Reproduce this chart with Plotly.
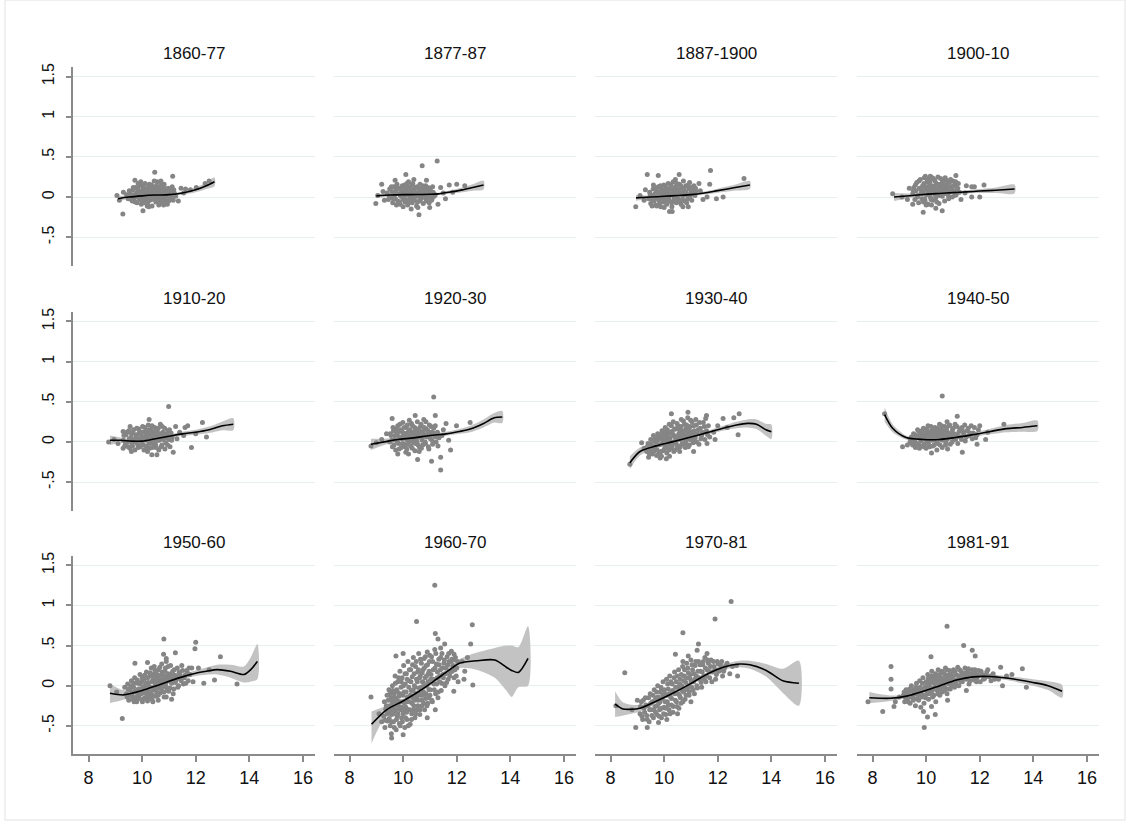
import plotly.graph_objects as go

# ---------------------------------------------------------------------------
# Panel titles (one panel per period) and axis ticks
# ---------------------------------------------------------------------------
periods = ["1860-77", "1877-87", "1887-1900", "1900-10",
           "1910-20", "1920-30", "1930-40", "1940-50",
           "1950-60", "1960-70", "1970-81", "1981-91"]

y_ticks = [-0.5, 0, 0.5, 1, 1.5]
y_tick_text = ["-.5", "0", ".5", "1", "1.5"]
x_ticks = [8, 10, 12, 14, 16]

# ---------------------------------------------------------------------------
# Observations per period: (x, y)
# ---------------------------------------------------------------------------
pts_1860_77 = [
    (9.42, 0.03), (9.48, -0.02), (9.55, 0.06), (9.58, 0.01), (9.63, -0.05), (9.66, 0.09), (9.70, 0.03),
    (9.72, -0.01), (9.76, 0.12), (9.79, 0.05), (9.81, -0.07), (9.84, 0.02), (9.87, 0.08), (9.90, -0.03),
    (9.92, 0.14), (9.95, 0.04), (9.97, -0.09), (10.0, 0.07), (10.02, 0.0), (10.04, 0.11), (10.06, -0.05),
    (10.09, 0.03), (10.11, 0.17), (10.13, 0.06), (10.15, -0.02), (10.18, 0.09), (10.2, -0.08), (10.22, 0.01),
    (10.24, 0.13), (10.26, 0.04), (10.28, -0.04), (10.31, 0.08), (10.33, 0.0), (10.35, 0.15), (10.37, -0.11),
    (10.4, 0.05), (10.42, 0.1), (10.44, -0.02), (10.47, 0.02), (10.49, 0.12), (10.51, -0.06), (10.54, 0.06),
    (10.56, 0.19), (10.58, -0.01), (10.61, 0.09), (10.63, 0.03), (10.66, -0.08), (10.68, 0.13), (10.71, 0.05),
    (10.73, -0.03), (10.76, 0.1), (10.79, 0.0), (10.82, 0.16), (10.85, -0.05), (10.88, 0.07), (10.91, 0.02),
    (10.94, -0.09), (10.97, 0.11), (11.0, 0.04), (11.04, -0.02), (11.08, 0.08), (11.12, 0.13), (11.16, -0.04),
    (11.2, 0.05), (11.25, 0.01),
    (9.52, 0.08), (9.6, -0.03), (9.67, 0.12), (9.74, -0.06), (9.83, 0.1), (9.88, 0.0), (9.93, 0.07),
    (9.99, -0.04), (10.05, 0.14), (10.07, 0.03), (10.1, -0.07), (10.14, 0.1), (10.17, 0.01), (10.21, 0.06),
    (10.23, -0.05), (10.27, 0.16), (10.3, 0.02), (10.34, 0.09), (10.36, -0.03), (10.39, 0.12), (10.41, 0.0),
    (10.46, 0.07), (10.5, -0.02), (10.53, 0.14), (10.57, 0.04), (10.6, -0.04), (10.64, 0.08), (10.67, 0.01),
    (10.7, 0.15), (10.74, -0.06), (10.78, 0.06), (10.83, 0.11), (10.87, -0.01), (10.93, 0.05), (10.99, -0.05),
    (11.05, 0.1), (11.1, 0.0), (11.18, 0.09), (9.85, 0.17), (10.45, 0.2), (10.19, -0.11), (10.62, -0.1),
    (9.06, 0.02), (9.15, -0.04), (9.28, -0.21), (9.3, 0.06), (9.73, 0.21), (10.03, -0.17), (10.47, 0.31),
    (11.14, 0.26), (11.35, -0.05), (11.45, 0.11), (11.55, 0.05), (11.62, 0.1), (11.8, 0.09), (12.02, 0.12),
    (12.5, 0.2), (12.35, 0.17), (10.7, 0.2), (9.95, 0.19), (10.25, -0.12), (10.8, -0.1),
]

pts_1877_87 = [
    (9.4, 0.05), (9.45, -0.03), (9.5, 0.1), (9.53, 0.0), (9.58, 0.07), (9.61, -0.07), (9.65, 0.13),
    (9.68, 0.03), (9.71, -0.02), (9.74, 0.09), (9.77, 0.16), (9.8, -0.05), (9.83, 0.04), (9.86, 0.11),
    (9.89, -0.09), (9.91, 0.01), (9.94, 0.07), (9.97, 0.14), (9.99, -0.03), (10.02, 0.05), (10.04, 0.1),
    (10.07, -0.06), (10.09, 0.02), (10.12, 0.08), (10.14, 0.17), (10.17, -0.1), (10.19, 0.04), (10.22, 0.12),
    (10.24, -0.02), (10.27, 0.06), (10.29, 0.0), (10.32, 0.15), (10.34, -0.07), (10.37, 0.09), (10.39, 0.03),
    (10.42, -0.04), (10.44, 0.11), (10.47, 0.05), (10.5, -0.11), (10.52, 0.13), (10.55, 0.01), (10.58, 0.07),
    (10.6, -0.05), (10.63, 0.16), (10.66, 0.04), (10.69, -0.01), (10.72, 0.1), (10.75, -0.08), (10.78, 0.06),
    (10.81, 0.02), (10.84, 0.14), (10.87, -0.03), (10.9, 0.08), (10.94, 0.0), (10.97, -0.07), (11.0, 0.11),
    (11.04, 0.03), (11.08, -0.02), (11.12, 0.06), (11.16, 0.01),
    (9.47, 0.02), (9.56, 0.13), (9.63, -0.02), (9.7, 0.06), (9.79, 0.11), (9.85, -0.06), (9.88, 0.03),
    (9.95, 0.1), (10.0, 0.0), (10.06, 0.15), (10.1, -0.04), (10.15, 0.06), (10.18, 0.13), (10.21, -0.07),
    (10.25, 0.02), (10.3, 0.09), (10.33, -0.02), (10.36, 0.17), (10.4, 0.07), (10.43, 0.0), (10.46, 0.12),
    (10.53, -0.06), (10.57, 0.04), (10.62, 0.1), (10.65, -0.03), (10.68, 0.07), (10.73, 0.14), (10.77, 0.0),
    (10.8, 0.09), (10.86, -0.05), (10.92, 0.12), (10.96, 0.04), (11.02, 0.08), (11.06, -0.04), (11.1, 0.13),
    (11.2, 0.03), (9.75, -0.1), (10.2, 0.19), (10.55, -0.13), (10.0, -0.12),
    (8.98, -0.08), (9.05, 0.02), (9.2, 0.16), (9.25, 0.07), (9.3, -0.04), (10.1, 0.28), (10.71, 0.39),
    (11.27, 0.45), (10.87, 0.21), (10.59, -0.22), (10.99, -0.13), (10.3, -0.15), (11.58, -0.02), (11.72, 0.15),
    (12.0, 0.16), (11.4, 0.12), (11.5, 0.05), (11.3, -0.09), (12.3, 0.14), (11.85, 0.06), (9.7, 0.21),
    (10.4, 0.22),
]

pts_1887_1900 = [
    (9.42, -0.02), (9.46, 0.06), (9.5, -0.08), (9.55, 0.02), (9.59, 0.1), (9.62, -0.05), (9.66, 0.04),
    (9.69, -0.1), (9.72, 0.08), (9.75, 0.0), (9.78, 0.13), (9.81, -0.04), (9.84, 0.05), (9.87, -0.12),
    (9.9, 0.1), (9.93, 0.02), (9.96, -0.06), (9.99, 0.15), (10.01, 0.04), (10.04, -0.02), (10.07, 0.09),
    (10.1, -0.09), (10.12, 0.06), (10.15, 0.17), (10.18, 0.0), (10.21, -0.05), (10.23, 0.11), (10.26, 0.03),
    (10.29, -0.12), (10.31, 0.08), (10.34, 0.19), (10.37, -0.02), (10.4, 0.05), (10.42, 0.13), (10.45, -0.07),
    (10.48, 0.02), (10.51, 0.1), (10.54, -0.03), (10.57, 0.16), (10.6, 0.06), (10.63, -0.09), (10.66, 0.12),
    (10.69, 0.01), (10.72, 0.2), (10.75, 0.07), (10.78, -0.05), (10.81, 0.14), (10.85, 0.03), (10.88, -0.02),
    (10.92, 0.1), (10.95, 0.18), (10.99, 0.05), (11.03, -0.04), (11.07, 0.09), (11.11, 0.14), (11.15, 0.02),
    (11.19, 0.07),
    (9.48, 0.03), (9.57, -0.04), (9.64, 0.12), (9.71, -0.02), (9.77, 0.06), (9.83, -0.08), (9.86, 0.14),
    (9.92, -0.01), (9.98, 0.07), (10.03, -0.06), (10.06, 0.12), (10.09, 0.02), (10.14, -0.03), (10.17, 0.1),
    (10.2, 0.04), (10.25, 0.16), (10.28, -0.07), (10.32, 0.03), (10.36, 0.11), (10.39, -0.04), (10.44, 0.07),
    (10.47, 0.17), (10.5, -0.01), (10.55, 0.09), (10.59, -0.06), (10.62, 0.14), (10.65, 0.04), (10.7, -0.04),
    (10.74, 0.11), (10.8, 0.06), (10.84, -0.07), (10.9, 0.15), (10.97, 0.01), (11.02, 0.12), (11.09, 0.04),
    (11.17, 0.11), (9.6, 0.15), (10.0, -0.13), (10.7, -0.12), (10.42, 0.22),
    (8.94, -0.12), (9.1, 0.02), (9.25, -0.04), (9.37, 0.28), (9.55, -0.11), (9.72, -0.11), (9.78, 0.27),
    (10.2, -0.18), (10.3, -0.18), (10.56, 0.28), (11.73, 0.33), (11.95, -0.02), (11.7, 0.16), (12.98, 0.23),
    (11.6, 0.0), (12.2, 0.0), (11.35, 0.08), (11.45, -0.03), (11.3, 0.17), (10.9, -0.12), (9.3, 0.09),
]

pts_1900_10 = [
    (9.5, 0.04), (9.54, 0.12), (9.58, -0.03), (9.62, 0.08), (9.65, 0.18), (9.69, 0.02), (9.72, -0.07),
    (9.75, 0.11), (9.78, 0.22), (9.81, 0.05), (9.84, -0.02), (9.87, 0.14), (9.9, 0.08), (9.93, 0.24),
    (9.96, -0.05), (9.99, 0.1), (10.02, 0.03), (10.05, 0.19), (10.08, -0.09), (10.1, 0.07), (10.13, 0.15),
    (10.16, 0.0), (10.19, 0.25), (10.22, 0.09), (10.25, -0.04), (10.28, 0.13), (10.3, 0.05), (10.33, 0.2),
    (10.36, -0.01), (10.39, 0.1), (10.42, 0.16), (10.45, 0.03), (10.48, -0.08), (10.51, 0.12), (10.54, 0.23),
    (10.57, 0.06), (10.6, 0.01), (10.63, 0.17), (10.66, 0.09), (10.69, -0.05), (10.72, 0.14), (10.75, 0.21),
    (10.78, 0.04), (10.81, 0.11), (10.84, -0.02), (10.87, 0.18), (10.9, 0.07), (10.94, 0.13), (10.97, 0.0),
    (11.0, 0.2), (11.04, 0.08), (11.08, 0.15), (11.12, 0.03), (11.16, 0.1), (11.2, 0.17), (11.24, 0.06),
    (9.52, 0.08), (9.6, 0.15), (9.67, 0.0), (9.73, 0.2), (9.8, 0.1), (9.86, 0.04), (9.92, 0.17),
    (9.95, -0.02), (10.0, 0.13), (10.04, 0.22), (10.07, 0.05), (10.11, 0.11), (10.15, 0.2), (10.18, -0.03),
    (10.21, 0.14), (10.24, 0.06), (10.27, 0.23), (10.31, 0.1), (10.35, 0.02), (10.38, 0.17), (10.41, 0.08),
    (10.44, 0.25), (10.47, 0.12), (10.5, 0.02), (10.53, 0.16), (10.56, 0.09), (10.61, 0.2), (10.65, 0.04),
    (10.68, 0.13), (10.71, 0.24), (10.74, 0.07), (10.79, 0.16), (10.83, 0.02), (10.86, 0.11), (10.91, 0.22),
    (10.96, 0.09), (11.02, 0.14), (11.06, 0.02), (11.1, 0.19), (11.18, 0.11), (9.9, -0.06), (10.4, -0.06),
    (10.2, -0.1),
    (8.75, 0.04), (9.1, 0.0), (9.37, 0.11), (9.3, -0.03), (9.89, -0.19), (10.36, -0.14), (10.6, -0.17),
    (9.97, 0.26), (10.15, 0.26), (11.11, 0.27), (11.3, -0.03), (11.45, 0.05), (11.7, 0.0), (12.0, 0.0),
    (11.7, 0.13), (11.8, 0.13), (12.16, 0.15), (11.5, 0.14), (9.5, -0.09), (10.0, -0.1),
]

pts_1910_20 = [
    (9.3, 0.02), (9.35, -0.05), (9.4, 0.09), (9.45, 0.0), (9.5, 0.14), (9.54, -0.08), (9.58, 0.05),
    (9.62, -0.02), (9.66, 0.11), (9.7, 0.03), (9.73, -0.1), (9.77, 0.07), (9.8, 0.17), (9.83, -0.03),
    (9.86, 0.04), (9.9, 0.12), (9.93, -0.06), (9.96, 0.09), (9.99, 0.01), (10.02, 0.19), (10.05, -0.04),
    (10.08, 0.06), (10.11, 0.13), (10.14, -0.09), (10.17, 0.03), (10.2, 0.1), (10.23, 0.21), (10.26, -0.02),
    (10.29, 0.07), (10.32, 0.15), (10.35, 0.0), (10.38, -0.07), (10.41, 0.11), (10.44, 0.04), (10.47, 0.18),
    (10.5, -0.03), (10.53, 0.08), (10.56, 0.14), (10.59, 0.02), (10.62, -0.1), (10.65, 0.1), (10.68, 0.22),
    (10.71, 0.05), (10.74, -0.04), (10.77, 0.12), (10.8, 0.07), (10.84, 0.17), (10.88, -0.01), (10.92, 0.09),
    (10.96, 0.14), (11.0, 0.03), (11.04, -0.06), (11.08, 0.11), (11.12, 0.06),
    (9.32, 0.08), (9.38, -0.02), (9.43, 0.12), (9.48, -0.06), (9.52, 0.04), (9.6, 0.1), (9.64, -0.05),
    (9.68, 0.15), (9.75, 0.0), (9.79, 0.09), (9.85, -0.07), (9.88, 0.16), (9.91, 0.03), (9.97, -0.03),
    (10.0, 0.12), (10.04, 0.05), (10.07, -0.1), (10.1, 0.18), (10.13, 0.02), (10.16, 0.1), (10.19, -0.05),
    (10.22, 0.07), (10.25, 0.15), (10.28, -0.08), (10.31, 0.04), (10.34, 0.12), (10.37, 0.2), (10.4, -0.02),
    (10.43, 0.09), (10.46, 0.0), (10.49, 0.13), (10.52, -0.07), (10.55, 0.05), (10.6, 0.17), (10.64, 0.02),
    (10.67, 0.08), (10.7, -0.06), (10.75, 0.19), (10.79, 0.03), (10.83, 0.1), (10.9, 0.05), (10.95, -0.04),
    (11.02, 0.15), (11.1, 0.02), (9.55, 0.19), (10.2, -0.12), (10.85, -0.09),
    (8.75, 0.0), (8.95, 0.03), (9.1, -0.02), (9.29, 0.13), (9.29, -0.08), (10.26, 0.28), (10.99, 0.44),
    (10.36, -0.16), (10.55, -0.16), (11.16, -0.13), (11.84, -0.07), (12.25, 0.24), (12.4, 0.06), (11.7, 0.2),
    (11.6, 0.18), (11.3, 0.04), (11.4, 0.12), (11.55, 0.08), (11.25, 0.19), (12.0, 0.1), (9.6, -0.12),
]

pts_1920_30 = [
    (9.5, 0.0), (9.55, 0.08), (9.6, -0.06), (9.64, 0.14), (9.68, 0.03), (9.72, -0.1), (9.76, 0.1),
    (9.8, 0.2), (9.83, -0.02), (9.86, 0.06), (9.9, 0.15), (9.93, -0.07), (9.96, 0.04), (9.99, 0.24),
    (10.02, 0.11), (10.05, -0.03), (10.08, 0.07), (10.11, 0.18), (10.14, -0.09), (10.17, 0.02), (10.2, 0.13),
    (10.23, 0.27), (10.26, 0.05), (10.29, -0.05), (10.32, 0.1), (10.35, 0.2), (10.38, 0.0), (10.41, 0.08),
    (10.44, -0.11), (10.47, 0.15), (10.5, 0.04), (10.53, 0.25), (10.56, -0.04), (10.59, 0.11), (10.62, 0.06),
    (10.65, 0.19), (10.68, -0.08), (10.71, 0.02), (10.74, 0.13), (10.77, 0.28), (10.8, 0.07), (10.83, -0.02),
    (10.86, 0.16), (10.9, 0.09), (10.94, -0.06), (10.98, 0.21), (11.02, 0.04), (11.06, 0.12), (11.1, -0.03),
    (11.14, 0.17), (11.18, 0.07), (11.23, 0.0), (11.28, 0.12), (11.34, 0.05),
    (9.52, 0.1), (9.58, 0.02), (9.62, 0.18), (9.66, -0.04), (9.7, 0.08), (9.74, 0.16), (9.78, 0.0),
    (9.82, 0.12), (9.85, -0.09), (9.88, 0.22), (9.91, 0.05), (9.95, 0.13), (9.98, -0.02), (10.01, 0.08),
    (10.04, 0.18), (10.07, -0.06), (10.1, 0.1), (10.13, 0.03), (10.16, 0.21), (10.19, -0.03), (10.22, 0.07),
    (10.25, 0.15), (10.28, 0.01), (10.31, 0.23), (10.34, -0.08), (10.37, 0.12), (10.4, 0.04), (10.43, 0.18),
    (10.46, -0.02), (10.49, 0.1), (10.52, 0.0), (10.55, 0.16), (10.58, 0.07), (10.61, -0.07), (10.64, 0.13),
    (10.67, 0.22), (10.7, 0.05), (10.73, -0.04), (10.76, 0.1), (10.79, 0.18), (10.82, 0.0), (10.85, 0.25),
    (10.88, 0.06), (10.92, 0.14), (10.96, -0.09), (11.0, 0.09), (11.04, 0.19), (11.08, 0.02), (11.12, 0.11),
    (11.2, 0.2), (11.25, 0.06), (11.3, -0.05), (10.1, -0.13), (10.6, -0.12),
    (8.8, -0.05), (9.0, -0.01), (9.2, 0.03), (9.38, 0.1), (9.59, 0.29), (10.45, 0.33), (11.2, 0.33),
    (11.14, 0.56), (11.4, -0.35), (11.06, -0.24), (10.54, -0.22), (11.4, -0.19), (11.77, -0.1), (11.99, 0.2),
    (12.5, 0.24), (11.6, 0.23), (11.5, 0.15), (11.45, 0.08), (9.8, -0.15), (10.2, -0.15), (11.7, 0.02),
]

pts_1930_40 = [
    (9.35, -0.12), (9.4, -0.02), (9.45, -0.15), (9.5, 0.03), (9.55, -0.08), (9.6, 0.08), (9.64, -0.11),
    (9.68, 0.0), (9.72, -0.17), (9.76, 0.1), (9.8, -0.04), (9.84, 0.05), (9.88, -0.12), (9.92, 0.14),
    (9.95, -0.01), (9.98, 0.07), (10.01, -0.09), (10.04, 0.18), (10.07, 0.02), (10.1, -0.14), (10.13, 0.1),
    (10.16, -0.03), (10.19, 0.22), (10.22, 0.05), (10.25, -0.08), (10.28, 0.13), (10.31, 0.0), (10.34, 0.25),
    (10.37, 0.08), (10.4, -0.1), (10.43, 0.16), (10.46, 0.03), (10.49, -0.05), (10.52, 0.2), (10.55, 0.1),
    (10.58, -0.12), (10.61, 0.06), (10.64, 0.28), (10.67, 0.14), (10.7, -0.02), (10.73, 0.09), (10.76, 0.22),
    (10.79, -0.07), (10.82, 0.17), (10.85, 0.04), (10.88, 0.3), (10.91, 0.11), (10.94, -0.04), (10.97, 0.19),
    (11.0, 0.07), (11.04, 0.25), (11.08, -0.01), (11.12, 0.14), (11.16, 0.05), (11.2, 0.21), (11.25, 0.1),
    (11.3, -0.03), (11.35, 0.17), (11.4, 0.08), (11.46, 0.24), (11.52, 0.03), (11.58, 0.14), (11.65, 0.2),
    (11.7, 0.06), (10.0, 0.0), (10.3, 0.12), (10.6, -0.06), (9.9, -0.18), (10.2, -0.18),
    (9.37, -0.06), (9.42, -0.19), (9.47, -0.09), (9.52, -0.03), (9.57, -0.15), (9.62, 0.02), (9.66, -0.06),
    (9.7, 0.05), (9.74, -0.1), (9.78, 0.02), (9.82, -0.14), (9.86, 0.09), (9.9, -0.03), (9.93, 0.04),
    (9.96, -0.11), (10.0, 0.12), (10.03, -0.04), (10.06, 0.07), (10.09, -0.06), (10.12, 0.15), (10.15, 0.03),
    (10.18, -0.1), (10.21, 0.11), (10.24, 0.0), (10.27, 0.2), (10.3, -0.05), (10.33, 0.08), (10.36, -0.12),
    (10.39, 0.16), (10.42, 0.05), (10.45, -0.02), (10.48, 0.23), (10.51, 0.07), (10.54, -0.08), (10.57, 0.15),
    (10.6, 0.03), (10.63, 0.19), (10.66, -0.03), (10.69, 0.1), (10.72, 0.26), (10.75, 0.04), (10.78, 0.14),
    (10.81, -0.01), (10.84, 0.21), (10.87, 0.08), (10.9, -0.06), (10.93, 0.16), (10.96, 0.03), (10.99, 0.27),
    (11.02, 0.12), (11.06, 0.02), (11.1, 0.2), (11.14, 0.09), (11.18, 0.28), (11.22, 0.0), (11.27, 0.15),
    (11.32, 0.24), (11.37, 0.04), (11.43, 0.12), (11.5, 0.19), (11.55, 0.29), (11.62, 0.09),
    (8.72, -0.28), (9.16, -0.01), (9.5, -0.14), (9.85, -0.2), (10.08, -0.21), (10.27, 0.35), (10.89, 0.37),
    (11.58, 0.33), (12.2, 0.29), (12.8, 0.35), (12.6, 0.3), (12.76, 0.09), (11.6, -0.02), (11.85, 0.12),
    (12.0, 0.2), (11.9, 0.03), (12.35, 0.18), (9.25, -0.08), (11.1, -0.12),
]

pts_1940_50 = [
    (9.4, 0.0), (9.45, 0.06), (9.5, -0.04), (9.56, 0.03), (9.6, 0.09), (9.65, -0.02), (9.7, 0.05),
    (9.74, 0.13), (9.78, -0.05), (9.82, 0.02), (9.86, 0.1), (9.9, 0.17), (9.93, -0.03), (9.97, 0.06),
    (10.0, 0.12), (10.03, 0.0), (10.07, 0.2), (10.1, 0.08), (10.13, -0.06), (10.16, 0.04), (10.2, 0.14),
    (10.23, 0.02), (10.26, 0.1), (10.3, -0.04), (10.33, 0.18), (10.36, 0.06), (10.4, 0.12), (10.43, -0.02),
    (10.46, 0.08), (10.5, 0.22), (10.53, 0.03), (10.56, 0.15), (10.6, -0.07), (10.63, 0.1), (10.67, 0.05),
    (10.7, 0.19), (10.74, 0.0), (10.78, 0.12), (10.82, 0.07), (10.86, 0.2), (10.9, -0.03), (10.94, 0.1),
    (10.98, 0.15), (11.03, 0.04), (11.08, 0.22), (11.13, 0.09), (11.18, -0.02), (11.23, 0.13), (11.28, 0.06),
    (11.34, 0.18), (11.4, 0.1), (11.46, 0.01), (11.53, 0.14), (11.6, 0.08), (11.68, 0.2), (11.76, 0.11),
    (11.85, 0.05), (11.95, 0.15),
    (9.42, 0.04), (9.48, -0.02), (9.53, 0.1), (9.58, 0.0), (9.63, 0.06), (9.68, 0.15), (9.72, -0.03),
    (9.76, 0.08), (9.8, 0.01), (9.84, 0.14), (9.88, 0.05), (9.92, -0.06), (9.95, 0.11), (9.99, 0.03),
    (10.02, 0.16), (10.05, 0.07), (10.09, -0.03), (10.12, 0.12), (10.15, 0.02), (10.18, 0.19), (10.22, 0.08),
    (10.25, -0.05), (10.28, 0.14), (10.32, 0.04), (10.35, 0.1), (10.38, -0.01), (10.42, 0.17), (10.45, 0.05),
    (10.48, 0.12), (10.52, -0.04), (10.55, 0.08), (10.58, 0.2), (10.62, 0.02), (10.65, 0.14), (10.69, 0.07),
    (10.72, -0.04), (10.76, 0.16), (10.8, 0.04), (10.84, 0.11), (10.88, 0.21), (10.92, 0.06), (10.97, 0.0),
    (11.01, 0.17), (11.05, 0.1), (11.1, 0.03), (11.15, 0.19), (11.2, 0.07), (11.26, 0.16), (11.32, 0.03),
    (11.38, 0.13), (11.44, 0.21), (11.5, 0.06), (11.57, 0.17), (11.64, 0.11), (11.72, 0.04), (11.8, 0.18),
    (11.9, 0.09), (9.6, -0.07), (10.0, -0.08),
    (8.45, 0.35), (9.12, -0.06), (9.3, -0.04), (10.2, -0.14), (10.6, 0.57), (11.16, 0.32), (10.78, 0.25),
    (11.35, -0.13), (10.8, -0.09), (10.4, -0.1), (12.22, 0.03), (12.0, 0.2), (12.9, 0.22), (12.3, 0.12),
    (11.9, -0.03), (9.75, -0.08),
]

pts_1950_60 = [
    (9.42, -0.1), (9.46, 0.02), (9.5, -0.18), (9.55, -0.05), (9.6, 0.06), (9.64, -0.14), (9.68, -0.02),
    (9.72, 0.1), (9.76, -0.19), (9.8, -0.08), (9.84, 0.03), (9.88, -0.12), (9.92, 0.14), (9.95, -0.04),
    (9.98, 0.05), (10.01, -0.2), (10.04, -0.09), (10.07, 0.08), (10.1, 0.0), (10.13, -0.15), (10.16, 0.17),
    (10.19, -0.06), (10.22, 0.04), (10.25, -0.11), (10.28, 0.12), (10.31, -0.02), (10.34, 0.22), (10.37, -0.17),
    (10.4, 0.07), (10.43, -0.05), (10.46, 0.15), (10.49, 0.01), (10.52, -0.13), (10.55, 0.1), (10.58, -0.03),
    (10.61, 0.2), (10.64, 0.05), (10.67, -0.09), (10.7, 0.13), (10.73, 0.27), (10.76, -0.01), (10.79, 0.08),
    (10.82, -0.14), (10.85, 0.18), (10.88, 0.03), (10.91, 0.11), (10.94, -0.06), (10.97, 0.24), (11.0, 0.06),
    (11.04, -0.03), (11.08, 0.15), (11.12, 0.09), (11.16, -0.1), (11.2, 0.2), (11.24, 0.04), (11.28, 0.12),
    (11.33, -0.02), (11.38, 0.17), (11.43, 0.08), (11.48, 0.25), (11.54, 0.02), (11.6, 0.13), (11.66, 0.19),
    (11.72, 0.06), (11.78, 0.14), (10.2, -0.19), (10.6, -0.18), (9.7, -0.2), (10.9, 0.3), (10.45, 0.24),
    (9.44, -0.14), (9.48, -0.04), (9.53, -0.12), (9.58, 0.0), (9.62, -0.09), (9.66, -0.17), (9.7, 0.03),
    (9.74, -0.07), (9.78, -0.14), (9.82, 0.07), (9.86, -0.04), (9.9, -0.16), (9.93, 0.02), (9.97, -0.1),
    (10.0, 0.1), (10.03, -0.03), (10.06, -0.16), (10.09, 0.13), (10.12, -0.07), (10.15, 0.03), (10.18, -0.12),
    (10.21, 0.1), (10.24, 0.0), (10.27, -0.15), (10.3, 0.16), (10.33, -0.08), (10.36, 0.05), (10.39, -0.12),
    (10.42, 0.12), (10.45, -0.02), (10.48, 0.19), (10.51, 0.05), (10.54, -0.08), (10.57, 0.14), (10.6, -0.12),
    (10.63, 0.09), (10.66, 0.23), (10.69, 0.0), (10.72, -0.05), (10.75, 0.17), (10.78, 0.04), (10.81, -0.08),
    (10.84, 0.12), (10.87, 0.22), (10.9, -0.02), (10.93, 0.08), (10.96, 0.15), (10.99, -0.07), (11.02, 0.11),
    (11.06, 0.25), (11.1, 0.03), (11.14, 0.18), (11.18, -0.04), (11.22, 0.13), (11.26, 0.07), (11.31, 0.22),
    (11.36, 0.0), (11.41, 0.14), (11.46, 0.06), (11.51, 0.19), (11.57, 0.1), (11.63, 0.03), (11.69, 0.16),
    (11.75, 0.22), (9.8, -0.2), (10.4, -0.2), (10.9, -0.14),
    (8.8, 0.0), (9.05, -0.08), (9.26, -0.41), (9.35, -0.02), (9.73, 0.28), (10.2, 0.29), (10.81, 0.58),
    (10.8, 0.39), (10.9, 0.34), (11.24, 0.41), (12.0, 0.54), (11.97, 0.46), (12.92, 0.36), (13.54, 0.02),
    (12.7, 0.07), (12.3, 0.03), (12.1, 0.22), (11.9, 0.05), (11.85, 0.22), (12.5, 0.2), (11.1, -0.17),
]

pts_1960_70 = [
    (9.28, -0.38), (9.3, -0.2), (9.32, -0.52), (9.35, -0.29), (9.4, -0.12), (9.42, -0.44), (9.45, -0.33),
    (9.47, -0.05), (9.5, -0.25), (9.52, -0.5), (9.55, -0.15), (9.57, -0.36), (9.6, 0.0), (9.62, -0.27),
    (9.64, -0.45), (9.66, -0.1), (9.68, -0.32), (9.7, 0.12), (9.72, -0.2), (9.74, -0.55), (9.76, -0.05),
    (9.78, -0.38), (9.8, 0.05), (9.82, -0.25), (9.84, -0.13), (9.86, -0.47), (9.88, 0.18), (9.9, -0.3),
    (9.92, -0.02), (9.94, -0.4), (9.96, 0.1), (9.98, -0.2), (10.0, -0.35), (10.02, 0.25), (10.04, -0.08),
    (10.06, -0.52), (10.08, 0.02), (10.1, -0.27), (10.12, 0.15), (10.14, -0.42), (10.16, -0.14), (10.18, 0.3),
    (10.2, -0.3), (10.22, 0.06), (10.24, -0.2), (10.26, -0.48), (10.28, 0.2), (10.3, -0.06), (10.32, -0.35),
    (10.34, 0.11), (10.36, -0.15), (10.38, 0.35), (10.4, -0.25), (10.42, 0.0), (10.44, -0.4), (10.46, 0.24),
    (10.48, -0.1), (10.5, 0.08), (10.52, -0.3), (10.54, 0.17), (10.56, -0.18), (10.58, 0.4), (10.6, -0.03),
    (10.62, -0.36), (10.64, 0.12), (10.66, -0.12), (10.68, 0.28), (10.7, -0.25), (10.72, 0.05), (10.74, 0.2),
    (10.76, -0.08), (10.78, 0.34), (10.8, -0.3), (10.82, 0.1), (10.84, -0.16), (10.86, 0.25), (10.88, 0.0),
    (10.9, 0.42), (10.92, -0.22), (10.94, 0.15), (10.96, -0.05), (10.98, 0.3), (11.0, -0.12), (11.03, 0.08),
    (11.06, 0.36), (11.09, -0.2), (11.12, 0.2), (11.15, 0.02), (11.18, 0.45), (11.21, -0.1), (11.24, 0.27),
    (11.27, 0.1), (11.3, -0.15), (11.33, 0.33), (11.36, 0.05), (11.39, 0.2), (11.42, -0.06), (11.45, 0.4),
    (11.48, 0.14), (11.52, 0.28), (11.56, 0.0), (11.6, 0.22), (11.64, 0.36), (11.68, 0.08), (11.72, 0.3),
    (11.76, 0.17), (11.8, 0.43), (11.85, 0.25), (11.9, 0.1), (11.95, 0.35), (12.0, 0.22), (12.05, 0.05),
    (9.33, -0.43), (9.37, -0.25), (9.41, -0.35), (9.44, -0.18), (9.48, -0.41), (9.51, -0.1), (9.53, -0.3),
    (9.56, -0.45), (9.59, -0.2), (9.61, -0.06), (9.63, -0.35), (9.65, -0.24), (9.67, -0.52), (9.69, -0.15),
    (9.71, 0.03), (9.73, -0.3), (9.75, -0.42), (9.77, -0.18), (9.79, -0.08), (9.81, -0.35), (9.83, 0.1),
    (9.85, -0.28), (9.87, -0.2), (9.89, -0.5), (9.91, -0.1), (9.93, 0.05), (9.95, -0.27), (9.97, -0.45),
    (9.99, -0.12), (10.01, 0.0), (10.03, -0.3), (10.05, -0.22), (10.07, 0.15), (10.09, -0.4), (10.11, -0.08),
    (10.13, -0.33), (10.15, 0.08), (10.17, -0.2), (10.19, -0.5), (10.21, -0.02), (10.23, 0.2), (10.25, -0.3),
    (10.27, -0.12), (10.29, 0.05), (10.31, -0.42), (10.33, -0.22), (10.35, 0.26), (10.37, -0.06), (10.39, -0.3),
    (10.41, 0.15), (10.43, -0.18), (10.45, -0.02), (10.47, -0.35), (10.49, 0.3), (10.51, -0.14), (10.53, 0.05),
    (10.55, -0.25), (10.57, 0.2), (10.59, -0.1), (10.61, 0.1), (10.63, -0.3), (10.65, 0.33), (10.67, -0.02),
    (10.69, -0.18), (10.71, 0.16), (10.73, -0.12), (10.75, 0.04), (10.77, -0.22), (10.79, 0.22), (10.81, 0.0),
    (10.83, 0.36), (10.85, -0.1), (10.87, 0.12), (10.89, -0.25), (10.91, 0.26), (10.93, 0.05), (10.95, -0.15),
    (10.97, 0.18), (10.99, 0.38), (11.01, -0.05), (11.04, 0.14), (11.07, -0.18), (11.1, 0.3), (11.13, 0.08),
    (11.16, -0.05), (11.19, 0.22), (11.22, 0.4), (11.25, 0.02), (11.28, 0.17), (11.31, -0.08), (11.34, 0.26),
    (11.37, 0.12), (11.4, 0.35), (11.44, 0.03), (11.47, 0.22), (11.5, 0.1), (11.54, 0.32), (11.58, 0.15),
    (11.62, 0.04), (11.66, 0.26), (11.7, 0.4), (11.74, 0.12), (11.78, 0.3), (11.83, 0.18), (11.88, 0.32),
    (11.93, 0.2), (11.98, 0.12), (12.03, 0.3),
    (8.8, -0.14), (9.1, -0.35), (9.2, -0.45), (9.56, -0.6), (9.57, -0.65), (10.0, -0.61), (9.73, 0.37),
    (10.0, 0.4), (10.5, 0.8), (11.18, 1.25), (12.58, 0.76), (11.2, 0.65), (11.3, 0.58), (11.55, 0.52),
    (11.4, 0.47), (12.52, 0.52), (11.9, 0.39), (11.82, 0.33), (12.27, 0.08), (12.6, 0.01), (11.89, -0.07),
    (11.2, -0.3), (10.9, -0.4), (12.2, 0.3), (12.3, 0.18), (12.4, 0.35),
]

pts_1970_81 = [
    (9.1, -0.35), (9.15, -0.2), (9.2, -0.42), (9.25, -0.28), (9.3, -0.15), (9.35, -0.37), (9.4, -0.25),
    (9.44, -0.45), (9.48, -0.1), (9.52, -0.3), (9.56, -0.2), (9.6, -0.4), (9.63, -0.05), (9.66, -0.26),
    (9.7, -0.15), (9.73, -0.36), (9.76, 0.0), (9.8, -0.22), (9.83, -0.3), (9.86, -0.08), (9.9, -0.4),
    (9.93, -0.16), (9.96, 0.05), (10.0, -0.27), (10.03, -0.1), (10.06, -0.36), (10.09, 0.08), (10.12, -0.2),
    (10.15, -0.04), (10.18, -0.3), (10.21, 0.12), (10.24, -0.14), (10.27, -0.24), (10.3, 0.02), (10.33, -0.33),
    (10.36, -0.08), (10.39, 0.17), (10.42, -0.18), (10.45, 0.05), (10.48, -0.26), (10.51, -0.02), (10.54, 0.2),
    (10.57, -0.12), (10.6, 0.08), (10.63, -0.22), (10.66, 0.0), (10.69, 0.24), (10.72, -0.08), (10.75, 0.12),
    (10.78, -0.17), (10.81, 0.04), (10.84, 0.28), (10.87, -0.04), (10.9, 0.16), (10.93, -0.12), (10.96, 0.09),
    (11.0, 0.32), (11.03, -0.02), (11.06, 0.2), (11.1, 0.05), (11.13, -0.1), (11.16, 0.25), (11.2, 0.12),
    (11.24, -0.03), (11.28, 0.3), (11.32, 0.08), (11.36, 0.18), (11.4, -0.02), (11.44, 0.26), (11.48, 0.12),
    (11.52, 0.35), (11.56, 0.05), (11.6, 0.2), (11.65, 0.28), (11.7, 0.1), (11.75, 0.32), (11.8, 0.17),
    (11.86, 0.24), (11.92, 0.08), (11.98, 0.3), (12.04, 0.18), (12.1, 0.26), (12.18, 0.12), (12.26, 0.22),
    (12.35, 0.28), (12.45, 0.15), (12.55, 0.24), (9.9, -0.05), (10.1, -0.42), (10.5, -0.35), (10.7, 0.3),
    (11.0, -0.2),
    (9.12, -0.26), (9.17, -0.38), (9.22, -0.18), (9.27, -0.33), (9.32, -0.24), (9.37, -0.42), (9.42, -0.15),
    (9.46, -0.3), (9.5, -0.22), (9.54, -0.37), (9.58, -0.12), (9.62, -0.3), (9.65, -0.18), (9.68, -0.33),
    (9.72, -0.08), (9.75, -0.25), (9.78, -0.14), (9.81, -0.38), (9.85, -0.2), (9.88, -0.02), (9.91, -0.28),
    (9.95, -0.12), (9.98, -0.35), (10.01, -0.05), (10.04, -0.2), (10.07, -0.28), (10.1, -0.12), (10.13, 0.02),
    (10.16, -0.24), (10.19, -0.1), (10.22, -0.35), (10.25, 0.05), (10.28, -0.16), (10.31, -0.06), (10.34, -0.26),
    (10.37, 0.1), (10.4, -0.1), (10.43, -0.02), (10.46, -0.2), (10.49, 0.12), (10.52, -0.1), (10.55, -0.28),
    (10.58, 0.02), (10.61, -0.15), (10.64, 0.14), (10.67, -0.06), (10.7, -0.2), (10.73, 0.06), (10.76, 0.2),
    (10.79, -0.05), (10.82, -0.12), (10.85, 0.1), (10.88, 0.22), (10.91, 0.0), (10.94, -0.08), (10.98, 0.14),
    (11.01, 0.05), (11.04, 0.26), (11.08, -0.05), (11.11, 0.15), (11.14, 0.08), (11.18, 0.3), (11.22, 0.0),
    (11.26, 0.18), (11.3, 0.1), (11.34, 0.26), (11.38, 0.04), (11.42, 0.17), (11.46, 0.3), (11.5, 0.08),
    (11.54, 0.22), (11.58, 0.12), (11.63, 0.32), (11.68, 0.18), (11.73, 0.24), (11.78, 0.05), (11.84, 0.3),
    (11.9, 0.2), (11.95, 0.14), (12.02, 0.27), (12.08, 0.2), (12.15, 0.3), (12.22, 0.18), (12.3, 0.25),
    (8.2, -0.25), (8.53, 0.16), (8.94, -0.52), (9.37, -0.52), (9.79, -0.46), (10.7, 0.66), (11.28, 0.52),
    (11.23, 0.44), (11.9, 0.83), (12.5, 1.05), (10.42, 0.39), (10.9, 0.37), (12.74, 0.12), (11.6, 0.4),
    (8.8, -0.3), (9.0, -0.18), (12.7, 0.25),
]

pts_1981_91 = [
    (9.15, -0.12), (9.2, -0.2), (9.25, -0.05), (9.3, -0.16), (9.35, -0.08), (9.4, -0.22), (9.45, 0.0),
    (9.5, -0.13), (9.55, -0.05), (9.6, -0.25), (9.64, 0.03), (9.68, -0.1), (9.72, -0.18), (9.76, 0.06),
    (9.8, -0.04), (9.84, -0.14), (9.88, 0.1), (9.92, -0.22), (9.96, -0.02), (10.0, 0.05), (10.03, -0.1),
    (10.06, 0.14), (10.09, -0.17), (10.12, 0.0), (10.15, 0.08), (10.18, -0.08), (10.21, 0.18), (10.24, -0.14),
    (10.27, 0.04), (10.3, -0.03), (10.33, 0.12), (10.36, -0.2), (10.39, 0.06), (10.42, -0.06), (10.45, 0.2),
    (10.48, 0.0), (10.51, -0.12), (10.54, 0.1), (10.57, 0.03), (10.6, -0.08), (10.63, 0.16), (10.66, 0.06),
    (10.69, -0.02), (10.72, 0.22), (10.75, 0.09), (10.78, -0.1), (10.81, 0.13), (10.84, 0.02), (10.87, 0.19),
    (10.9, -0.04), (10.94, 0.1), (10.98, 0.05), (11.02, 0.2), (11.06, -0.02), (11.1, 0.14), (11.14, 0.07),
    (11.18, 0.23), (11.22, 0.0), (11.26, 0.12), (11.3, 0.18), (11.35, 0.05), (11.4, 0.15), (11.45, 0.22),
    (11.5, 0.08), (11.55, 0.17), (11.6, 0.02), (11.66, 0.13), (11.72, 0.2), (11.78, 0.07), (11.84, 0.15),
    (11.9, 0.1), (11.96, 0.19), (12.02, 0.05), (12.1, 0.14), (12.18, 0.09), (12.26, 0.17), (12.34, 0.11),
    (12.42, 0.06), (12.5, 0.15), (12.6, 0.1), (9.8, -0.27), (10.2, -0.26), (10.8, -0.18), (11.5, -0.06),
    (9.18, -0.08), (9.23, -0.15), (9.28, -0.1), (9.33, -0.2), (9.38, -0.04), (9.43, -0.14), (9.48, -0.07),
    (9.52, -0.18), (9.57, -0.1), (9.62, -0.02), (9.66, -0.16), (9.7, -0.06), (9.74, -0.12), (9.78, -0.02),
    (9.82, -0.1), (9.86, 0.03), (9.9, -0.12), (9.94, -0.05), (9.98, -0.15), (10.02, 0.0), (10.05, -0.06),
    (10.08, 0.09), (10.11, -0.1), (10.14, 0.04), (10.17, -0.03), (10.2, 0.12), (10.23, -0.06), (10.26, 0.08),
    (10.29, -0.12), (10.32, 0.02), (10.35, 0.15), (10.38, -0.04), (10.41, 0.1), (10.44, -0.1), (10.47, 0.05),
    (10.5, 0.14), (10.53, -0.04), (10.56, 0.08), (10.59, 0.18), (10.62, 0.0), (10.65, 0.1), (10.68, -0.06),
    (10.71, 0.14), (10.74, 0.04), (10.77, 0.2), (10.8, 0.07), (10.83, -0.04), (10.86, 0.12), (10.89, 0.05),
    (10.92, 0.16), (10.96, 0.0), (11.0, 0.12), (11.04, 0.07), (11.08, 0.18), (11.12, 0.02), (11.16, 0.13),
    (11.2, 0.08), (11.25, 0.2), (11.3, 0.05), (11.35, 0.14), (11.4, 0.09), (11.46, 0.16), (11.52, 0.12),
    (11.58, 0.21), (11.64, 0.06), (11.7, 0.15), (11.76, 0.11), (11.82, 0.2), (11.88, 0.05), (11.94, 0.13),
    (12.05, 0.18), (12.14, 0.08), (12.22, 0.13), (12.3, 0.2), (12.4, 0.12), (12.55, 0.08),
    (7.83, -0.2), (8.38, -0.32), (8.69, 0.24), (8.69, 0.08), (8.69, -0.04), (8.8, -0.26), (8.85, -0.2),
    (9.0, -0.14), (9.93, -0.52), (10.05, -0.39), (10.34, -0.36), (9.9, -0.32), (10.18, 0.36), (10.78, 0.74),
    (11.4, 0.5), (11.72, 0.44), (11.83, 0.37), (12.78, 0.23), (13.2, 0.14), (13.59, 0.21), (13.74, -0.02),
    (12.85, 0.0), (13.0, 0.12), (12.7, 0.08),
]

# ---------------------------------------------------------------------------
# Local polynomial fit with confidence band, per period
# ---------------------------------------------------------------------------
fit_x_1860_77 = [9.1, 9.5, 10.0, 10.5, 11.0, 11.5, 12.0, 12.4, 12.7]
fit_y_1860_77 = [-0.02, 0.0, 0.015, 0.025, 0.03, 0.05, 0.09, 0.14, 0.19]
fit_se_1860_77 = [0.035, 0.02, 0.012, 0.01, 0.012, 0.02, 0.03, 0.04, 0.055]

fit_x_1877_87 = [9.0, 9.5, 10.0, 10.5, 11.0, 11.3, 11.7, 12.2, 12.6, 13.0]
fit_y_1877_87 = [0.015, 0.025, 0.03, 0.032, 0.035, 0.04, 0.06, 0.09, 0.12, 0.15]
fit_se_1877_87 = [0.03, 0.015, 0.01, 0.01, 0.012, 0.015, 0.02, 0.03, 0.04, 0.055]

fit_x_1887_1900 = [8.95, 9.5, 10.0, 10.5, 11.0, 11.5, 12.0, 12.6, 13.2]
fit_y_1887_1900 = [-0.01, 0.0, 0.01, 0.02, 0.03, 0.05, 0.08, 0.115, 0.15]
fit_se_1887_1900 = [0.035, 0.018, 0.012, 0.01, 0.012, 0.018, 0.025, 0.035, 0.05]

fit_x_1900_10 = [8.8, 9.5, 10.0, 10.5, 11.0, 11.5, 12.0, 12.6, 13.3]
fit_y_1900_10 = [0.0, 0.02, 0.035, 0.045, 0.055, 0.065, 0.075, 0.085, 0.10]
fit_se_1900_10 = [0.05, 0.025, 0.015, 0.012, 0.015, 0.02, 0.025, 0.035, 0.055]

fit_x_1910_20 = [8.8, 9.2, 9.6, 10.0, 10.5, 11.0, 11.5, 12.0, 12.5, 13.0, 13.4]
fit_y_1910_20 = [0.02, 0.02, 0.01, 0.01, 0.04, 0.07, 0.1, 0.12, 0.15, 0.2, 0.22]
fit_se_1910_20 = [0.06, 0.035, 0.02, 0.015, 0.015, 0.018, 0.025, 0.03, 0.04, 0.055, 0.075]

fit_x_1920_30 = [8.8, 9.3, 9.8, 10.4, 11.0, 11.6, 12.1, 12.5, 13.0, 13.4, 13.7]
fit_y_1920_30 = [-0.03, 0.0, 0.03, 0.05, 0.08, 0.1, 0.13, 0.16, 0.23, 0.3, 0.31]
fit_se_1920_30 = [0.07, 0.04, 0.02, 0.015, 0.018, 0.025, 0.03, 0.04, 0.05, 0.06, 0.075]

fit_x_1930_40 = [8.72, 9.1, 9.7, 10.3, 11.0, 11.6, 12.2, 12.7, 13.1, 13.45, 13.8, 14.0]
fit_y_1930_40 = [-0.26, -0.12, -0.05, 0.0, 0.06, 0.115, 0.17, 0.21, 0.23, 0.22, 0.15, 0.125]
fit_se_1930_40 = [0.08, 0.05, 0.025, 0.018, 0.018, 0.022, 0.03, 0.04, 0.05, 0.06, 0.075, 0.09]

fit_x_1940_50 = [8.45, 8.75, 9.25, 9.9, 10.5, 11.1, 11.75, 12.4, 13.0, 13.6, 14.15]
fit_y_1940_50 = [0.34, 0.17, 0.055, 0.03, 0.03, 0.055, 0.09, 0.13, 0.165, 0.18, 0.2]
fit_se_1940_50 = [0.09, 0.05, 0.025, 0.018, 0.015, 0.018, 0.025, 0.035, 0.045, 0.055, 0.065]

fit_x_1950_60 = [8.8, 9.3, 10.0, 10.5, 11.0, 11.5, 12.0, 12.4, 12.8, 13.3, 13.8, 14.05, 14.3]
fit_y_1950_60 = [-0.095, -0.115, -0.06, -0.005, 0.055, 0.11, 0.155, 0.18, 0.2, 0.18, 0.14, 0.2, 0.3]
fit_se_1950_60 = [0.12, 0.06, 0.03, 0.025, 0.025, 0.03, 0.035, 0.045, 0.06, 0.08, 0.1, 0.15, 0.22]

fit_x_1960_70 = [8.82, 9.38, 10.0, 10.64, 11.24, 11.7, 12.1, 12.73, 13.42, 13.85, 14.05, 14.3, 14.66]
fit_y_1960_70 = [-0.48, -0.30, -0.19, -0.06, 0.08, 0.19, 0.28, 0.31, 0.32, 0.23, 0.19, 0.165, 0.34]
fit_hi_1960_70 = [-0.32, -0.25, -0.16, -0.03, 0.11, 0.23, 0.33, 0.41, 0.47, 0.5, 0.5, 0.48, 0.74]
fit_lo_1960_70 = [-0.72, -0.36, -0.22, -0.09, 0.05, 0.15, 0.22, 0.2, 0.1, -0.06, -0.14, -0.02, 0.0]

fit_x_1970_81 = [8.17, 8.47, 9.1, 9.72, 10.34, 10.96, 11.58, 12.2, 12.82, 13.2, 13.81, 14.43, 15.03]
fit_y_1970_81 = [-0.23, -0.29, -0.28, -0.19, -0.09, 0.02, 0.14, 0.23, 0.27, 0.26, 0.19, 0.06, 0.03]
fit_se_1970_81 = [0.16, 0.08, 0.04, 0.025, 0.02, 0.02, 0.025, 0.03, 0.04, 0.05, 0.08, 0.15, 0.28]

fit_x_1981_91 = [7.88, 8.65, 9.27, 9.89, 10.51, 11.13, 11.75, 12.37, 13.0, 13.99, 14.55, 15.07]
fit_y_1981_91 = [-0.15, -0.157, -0.13, -0.07, 0.0, 0.07, 0.11, 0.115, 0.095, 0.04, 0.0, -0.07]
fit_se_1981_91 = [0.07, 0.035, 0.02, 0.015, 0.012, 0.012, 0.015, 0.02, 0.025, 0.04, 0.055, 0.08]


def band(y, se):
    return [a - s for a, s in zip(y, se)], [a + s for a, s in zip(y, se)]


panels = [
    (pts_1860_77, fit_x_1860_77, fit_y_1860_77, *band(fit_y_1860_77, fit_se_1860_77)),
    (pts_1877_87, fit_x_1877_87, fit_y_1877_87, *band(fit_y_1877_87, fit_se_1877_87)),
    (pts_1887_1900, fit_x_1887_1900, fit_y_1887_1900, *band(fit_y_1887_1900, fit_se_1887_1900)),
    (pts_1900_10, fit_x_1900_10, fit_y_1900_10, *band(fit_y_1900_10, fit_se_1900_10)),
    (pts_1910_20, fit_x_1910_20, fit_y_1910_20, *band(fit_y_1910_20, fit_se_1910_20)),
    (pts_1920_30, fit_x_1920_30, fit_y_1920_30, *band(fit_y_1920_30, fit_se_1920_30)),
    (pts_1930_40, fit_x_1930_40, fit_y_1930_40, *band(fit_y_1930_40, fit_se_1930_40)),
    (pts_1940_50, fit_x_1940_50, fit_y_1940_50, *band(fit_y_1940_50, fit_se_1940_50)),
    (pts_1950_60, fit_x_1950_60, fit_y_1950_60, *band(fit_y_1950_60, fit_se_1950_60)),
    (pts_1960_70, fit_x_1960_70, fit_y_1960_70, fit_lo_1960_70, fit_hi_1960_70),
    (pts_1970_81, fit_x_1970_81, fit_y_1970_81, *band(fit_y_1970_81, fit_se_1970_81)),
    (pts_1981_91, fit_x_1981_91, fit_y_1981_91, *band(fit_y_1981_91, fit_se_1981_91)),
]

# ---------------------------------------------------------------------------
# Layout: 3 x 4 grid of panels sharing scales
# ---------------------------------------------------------------------------
W, H = 1130, 825
col_px = [(73, 315), (334, 576), (595, 837), (857, 1099)]
row_px = [(63.3, 263), (309.3, 509), (554.3, 754)]
title_px = [50, 296, 541]
X_RANGE = [7.42, 16.45]
Y_RANGE = [-0.855, 1.62]

FONT = "Liberation Sans, Arial, Helvetica, sans-serif"
AXIS_COLOR = "#8a8a8a"
GRID_COLOR = "#e6eef0"
DOT_COLOR = "#858585"
BAND_COLOR = "rgba(188,188,188,0.9)"

fig = go.Figure()
layout = dict(
    width=W, height=H, autosize=False,
    margin=dict(l=0, r=0, t=0, b=0),
    paper_bgcolor="white", plot_bgcolor="white",
    showlegend=False,
    font=dict(family=FONT, color="#111111"),
    annotations=[], shapes=[],
)

for i, name in enumerate(periods):
    r, c = divmod(i, 4)
    n = i + 1
    xa = "x" if n == 1 else f"x{n}"
    ya = "y" if n == 1 else f"y{n}"
    pts, fx, fy, lo, hi = panels[i]

    fig.add_trace(go.Scatter(
        x=fx + fx[::-1], y=hi + lo[::-1], mode="lines", fill="toself",
        fillcolor=BAND_COLOR, line=dict(width=0, shape="spline", smoothing=0.8),
        xaxis=xa, yaxis=ya, hoverinfo="skip"))
    fig.add_trace(go.Scatter(
        x=[p[0] for p in pts], y=[p[1] for p in pts], mode="markers",
        marker=dict(size=5, color=DOT_COLOR, line=dict(width=0)),
        xaxis=xa, yaxis=ya))
    fig.add_trace(go.Scatter(
        x=fx, y=fy, mode="lines",
        line=dict(color="black", width=1.6, shape="spline", smoothing=0.8),
        xaxis=xa, yaxis=ya))

    x0, x1 = col_px[c]
    top, bot = row_px[r]
    bottom_row = r == 2
    left_col = c == 0

    xaxis = dict(
        domain=[x0 / W, x1 / W], range=X_RANGE, anchor=ya,
        showgrid=False, zeroline=False, fixedrange=True,
    )
    if bottom_row:
        xaxis.update(showline=True, linecolor=AXIS_COLOR, linewidth=2,
                     ticks="outside", ticklen=6, tickwidth=1.5, tickcolor=AXIS_COLOR,
                     tickvals=x_ticks, tickfont=dict(size=18, family=FONT, color="#111111"))
    else:
        xaxis.update(showline=False, showticklabels=False, ticks="")

    yaxis = dict(
        domain=[1 - bot / H, 1 - top / H], range=Y_RANGE, anchor=xa,
        showgrid=True, gridcolor=GRID_COLOR, gridwidth=1,
        zeroline=False, fixedrange=True, tickvals=y_ticks,
    )
    if left_col:
        yaxis.update(showline=True, linecolor=AXIS_COLOR, linewidth=2,
                     ticks="outside", ticklen=5, tickwidth=1.5, tickcolor=AXIS_COLOR,
                     ticktext=y_tick_text, tickangle=-90, ticklabelstandoff=6,
                     tickfont=dict(size=16, family=FONT, color="#111111"))
    else:
        yaxis.update(showline=False, showticklabels=False, ticks="")

    suffix = "" if n == 1 else str(n)
    layout[f"xaxis{suffix}"] = xaxis
    layout[f"yaxis{suffix}"] = yaxis

    layout["annotations"].append(dict(
        text=name, xref="paper", yref="paper",
        x=(x0 + x1) / 2 / W, y=1 - title_px[r] / H,
        xanchor="center", yanchor="middle", showarrow=False,
        font=dict(size=17, family=FONT, color="#111111")))

# light outer frame around the graph region
layout["shapes"].append(dict(
    type="rect", xref="paper", yref="paper",
    x0=5 / W, x1=1125 / W, y0=1 - 820 / H, y1=1 + 4 / H,
    line=dict(color="#e2e2e2", width=1), fillcolor="rgba(0,0,0,0)", layer="below"))

fig.update_layout(**layout)
fig.write_html("out.html")
